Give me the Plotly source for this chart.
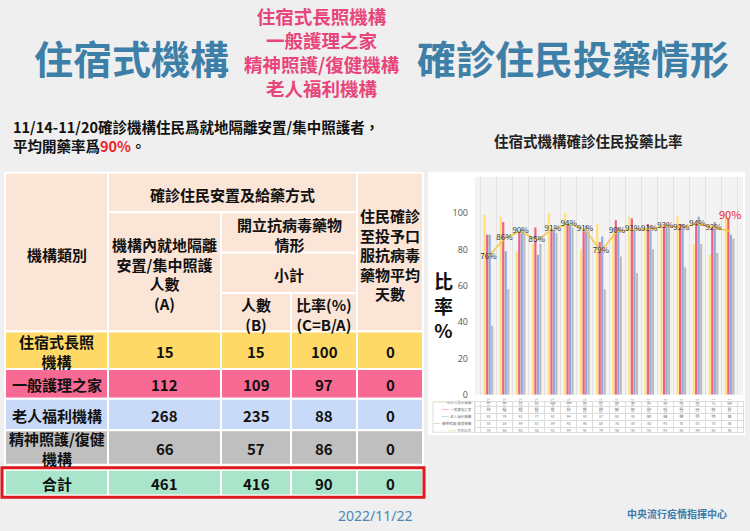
import plotly.graph_objects as go

# ---- data ----
weeks = ["8/1-8/7", "8/8-8/14", "8/15-8/21", "8/22-8/28", "8/29-9/4", "9/5-9/11",
         "9/12-9/18", "9/19-9/25", "9/26-10/2", "10/3-10/9", "10/10-10/16",
         "10/17-10/23", "10/24-10/30", "10/31-11/6", "11/7-11/13", "11/14-11/20"]
series_names = ["住宿式長照機構", "一般護理之家", "老人福利機構", "精神照護/復健機構"]
rate_ltc = [99, 98, 79, 83, 100, 100, 80, 94, 89, 98, 91, 92, 98, 83, 77, 100]
rate_nursing = [88, 95, 90, 92, 91, 94, 90, 84, 96, 97, 94, 93, 94, 94, 92, 97]
rate_elderly = [88, 79, 91, 77, 91, 94, 93, 87, 92, 91, 93, 94, 94, 98, 95, 88]
rate_mental = [38, 58, 89, 83, 89, 92, 90, 58, 76, 67, 80, 93, 70, 83, 78, 86]
rate_avg = [76, 86, 90, 85, 91, 94, 91, 79, 90, 91, 91, 93, 92, 94, 92, 90]
avg_name = "平均比率"

row_labels = ["住宿式長照<br>機構", "一般護理之家", "老人福利機構", "精神照護/復健<br>機構"]
count_a = [15, 112, 268, 66]
count_b = [15, 109, 235, 57]
rate_c = [100, 97, 88, 86]
days = [0, 0, 0, 0]
total_label = "合計"
total_row = [461, 416, 90, 0]

W, H = 750, 531
def X(px):
    return px / W
def Y(py):
    return 1 - py / H

bar_colors = ["#FFE07A", "#F0607F", "#8FAADC", "#BDBDBD"]
line_color = "#F2C94C"
title_blue = "#3E7FA8"
pink = "#E8457A"
font_cjk = "Noto Sans CJK TC"

fig = go.Figure()

# ---- bar chart ----
all_series = [rate_ltc, rate_nursing, rate_elderly, rate_mental]
for name, vals, col in zip(series_names, all_series, bar_colors):
    fig.add_trace(go.Bar(x=weeks, y=vals, name=name, marker_color=col, marker_line_width=0))

labels = [f"{v}%" for v in rate_avg[:-1]] + [""]
fig.add_trace(go.Scatter(
    x=weeks, y=rate_avg, name=avg_name, mode="lines+text",
    line=dict(color=line_color, width=1.6),
    text=labels, textposition="middle center",
    textfont=dict(size=8, color="#333333", family=font_cjk),
))
fig.add_annotation(x=weeks[-1], y=rate_avg[-1], xref="x", yref="y", text=f"{rate_avg[-1]}%",
                   showarrow=False, yshift=17, font=dict(size=11, color="#E8262B", family=font_cjk))

# small data table under the bars (text on its own category axes)
table_rows = series_names + [avg_name]
table_vals = all_series + [rate_avg]
tx, ty, tt = [], [], []
for rname, vals in zip(table_rows, table_vals):
    for w, v in zip(weeks, vals):
        tx.append(w)
        ty.append(rname)
        tt.append(str(v))
fig.add_trace(go.Scatter(x=tx, y=ty, text=tt, mode="text", xaxis="x2", yaxis="y2",
                         textfont=dict(size=3.5, color="#777777"), hoverinfo="skip"))
swatch = bar_colors[:3] + ["#AAAAAA", line_color]
row_ticktext = [f"<span style='color:{c}'>━━</span>  {n}" for c, n in zip(swatch, table_rows)]

fig.update_layout(
    width=W, height=H, autosize=False,
    margin=dict(l=0, r=0, t=0, b=0),
    paper_bgcolor="#EFEFEF", plot_bgcolor="white",
    showlegend=False, barmode="group", bargap=0.38, bargroupgap=0.12,
    font=dict(family=font_cjk),
    xaxis=dict(domain=[X(475), X(743)], type="category", tickson="boundaries",
               showgrid=True, gridcolor="#E2E2E2", gridwidth=1, ticks="",
               tickfont=dict(size=3.5, color="#888888"), ticklabelstandoff=1),
    yaxis=dict(domain=[Y(399), Y(178)], range=[0, 120], tickvals=[0, 20, 40, 60, 80, 100],
               showgrid=False, zeroline=False, ticks="", ticklabelstandoff=6,
               tickfont=dict(size=9, color="#555555", family="Open Sans")),
    xaxis2=dict(domain=[X(475), X(743)], type="category", categoryorder="array", categoryarray=weeks,
                anchor="y2", showticklabels=False, tickson="boundaries", showgrid=True,
                gridcolor="#DDDDDD", ticks="", showline=True, linecolor="#DDDDDD", mirror=True),
    yaxis2=dict(domain=[Y(437), Y(406)], type="category", categoryorder="array",
                categoryarray=table_rows[::-1], anchor="x2", tickson="boundaries", showgrid=True,
                gridcolor="#DDDDDD", ticks="", showline=True, linecolor="#DDDDDD", mirror=True,
                tickvals=table_rows, ticktext=row_ticktext, ticklabelstandoff=2,
                tickfont=dict(size=3.5, color="#777777")),
)

shapes = []
# white chart panel
shapes.append(dict(type="rect", xref="paper", yref="paper", x0=X(428), x1=X(745), y0=Y(440), y1=Y(173),
                   fillcolor="white", line_width=0, layer="below"))
# light plot background of the bar area
shapes.append(dict(type="rect", xref="x domain", yref="y domain", x0=0, x1=1, y0=0, y1=1,
                   fillcolor="#F3F3F3", line_width=0, layer="below"))
# left border of the data table (legend column)
shapes.append(dict(type="rect", xref="paper", yref="y2 domain", x0=X(433), x1=X(475), y0=0, y1=1,
                   fillcolor="rgba(0,0,0,0)", line=dict(color="#DDDDDD", width=1)))

# ---- left table ----
cols = [5, 108, 221, 291, 357, 423]
header_fill = "#FBE5D6"
def cell(x0, x1, y0, y1, fill):
    shapes.append(dict(type="rect", xref="paper", yref="paper", x0=X(x0), x1=X(x1), y0=Y(y1), y1=Y(y0),
                       fillcolor=fill, line=dict(color="white", width=2), layer="below"))
def txt(xc, yc, s, size=15, color="#111111"):
    fig.add_annotation(x=X(xc), y=Y(yc), xref="paper", yref="paper", text=f"<b>{s}</b>", showarrow=False,
                       font=dict(size=size, color=color, family=font_cjk), xanchor="center", yanchor="middle",
                       align="center")

header_cells = [
    (cols[0], cols[1], 174, 335, "機構類別"),
    (cols[1], cols[4], 174, 214, "確診住民安置及給藥方式"),
    (cols[1], cols[2], 214, 335, "機構內就地隔離<br>安置/集中照護<br>人數<br>(A)"),
    (cols[2], cols[4], 214, 255, "開立抗病毒藥物<br>情形"),
    (cols[2], cols[4], 255, 296, "小計"),
    (cols[2], cols[3], 296, 335, "人數<br>(B)"),
    (cols[3], cols[4], 296, 335, "比率(%)<br>(C=B/A)"),
    (cols[4], cols[5], 174, 335, "住民確診<br>至投予口<br>服抗病毒<br>藥物平均<br>天數"),
]
for x0, x1, y0, y1, s in header_cells:
    cell(x0, x1, y0, y1, header_fill)
    txt((x0 + x1) / 2, (y0 + y1) / 2 + 2, s)

row_fills = ["#FFD966", "#F86A94", "#C9DAF8", "#BFBFBF"]
row_bounds = [(335, 373), (373, 403), (403, 435), (435, 470)]
for i, (y0, y1) in enumerate(row_bounds):
    vals = [row_labels[i], count_a[i], count_b[i], rate_c[i], days[i]]
    for j in range(5):
        cell(cols[j], cols[j + 1], y0, y1, row_fills[i])
        txt((cols[j] + cols[j + 1]) / 2, (y0 + y1) / 2 + 1, vals[j])

vals = [total_label] + total_row
for j in range(5):
    cell(cols[j], cols[j + 1], 475, 501, "#A8E5CB")
    txt((cols[j] + cols[j + 1]) / 2, 489, vals[j])
shapes.append(dict(type="rect", xref="paper", yref="paper", x0=X(2), x1=X(424), y0=Y(503), y1=Y(473),
                   line=dict(color="#E0191E", width=3), fillcolor="rgba(0,0,0,0)"))

fig.update_layout(shapes=shapes)

# ---- titles and texts ----
def note(xc, yc, s, size, color, anchor="center", bold=True, family=font_cjk, align="left"):
    fig.add_annotation(x=X(xc), y=Y(yc), xref="paper", yref="paper",
                       text=f"<b>{s}</b>" if bold else s, showarrow=False,
                       font=dict(size=size, color=color, family=family),
                       xanchor=anchor, yanchor="middle", align=align)

note(131, 57, "住宿式機構", 39, title_blue)
note(573, 57, "確診住民投藥情形", 39, title_blue)
note(322, 52, "住宿式長照機構<br>一般護理之家<br>精神照護/復健機構<br>老人福利機構", 18.5, pink, align="center")

note(11, 137, "11/14-11/20確診機構住民爲就地隔離安置/集中照護者，<br>"
     "平均開藥率爲<span style='color:#E8262B'>90%</span>。", 14.5, "#111111", anchor="left")
note(588, 141, "住宿式機構確診住民投藥比率", 14.5, "#222222")

fig.add_annotation(x=X(443), y=Y(308), xref="paper", yref="paper", text="<b>比<br>率<br>%</b>",
                   showarrow=False, font=dict(size=19, color="#111111", family=font_cjk),
                   xanchor="center", yanchor="middle", borderpad=0)

note(375, 521, "2022/11/22", 14, "#4A86B8", bold=False, family="Noto Sans")
note(677, 519, "中央流行疫情指揮中心", 10, "#3C7AAA")

# page body has a default margin; remove it so the figure sits at the window corner
fig.write_html("out.html", config={"displayModeBar": False},
               post_script="document.body.style.margin='0px';")
